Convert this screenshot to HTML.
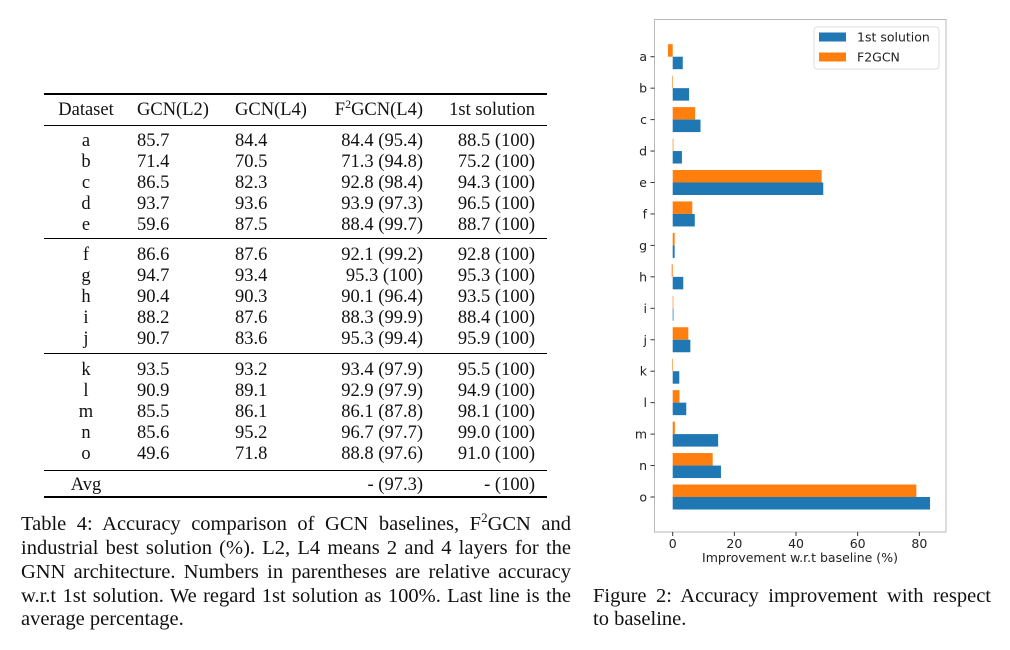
<!DOCTYPE html>
<html><head><meta charset="utf-8">
<style>
html,body{margin:0;padding:0;background:#fff;}
body{width:1010px;height:650px;position:relative;overflow:hidden;font-family:"Liberation Serif",serif;color:#111;}
.t{position:absolute;font-size:18.5px;line-height:22px;white-space:nowrap;}
.c{transform:translateX(-50%);}
.r{transform:translateX(-100%);}
.hl{position:absolute;left:44px;width:503px;background:#000;}
.cl{position:absolute;font-size:20.5px;line-height:23.8px;white-space:nowrap;}
.j{text-align:justify;text-align-last:justify;}
</style></head>
<body>
<div id="table"></div>
<div>
<div class="cl j" style="left:21px;top:513px;width:550px;">Table 4: Accuracy comparison of GCN baselines, F<sup style="font-size:13px;line-height:0">2</sup>GCN and</div>
<div class="cl j" style="left:21px;top:537px;width:550px;">industrial best solution (%). L2, L4 means 2 and 4 layers for the</div>
<div class="cl j" style="left:21px;top:561px;width:550px;">GNN architecture. Numbers in parentheses are relative accuracy</div>
<div class="cl j" style="left:21px;top:585px;width:550px;">w.r.t 1st solution. We regard 1st solution as 100%. Last line is the</div>
<div class="cl" style="left:21px;top:608px;">average percentage.</div>
</div>
<div>
<div class="cl j" style="left:593px;top:585px;width:398px;">Figure 2: Accuracy improvement with respect</div>
<div class="cl" style="left:593px;top:608px;">to baseline.</div>
</div>
<svg id="chart" width="1010" height="650" style="position:absolute;left:0;top:0;" xmlns="http://www.w3.org/2000/svg"></svg>
<script>
// ---------- table ----------
const rows=[["a","85.7","84.4","84.4 (95.4)","88.5 (100)"],["b","71.4","70.5","71.3 (94.8)","75.2 (100)"],["c","86.5","82.3","92.8 (98.4)","94.3 (100)"],["d","93.7","93.6","93.9 (97.3)","96.5 (100)"],["e","59.6","87.5","88.4 (99.7)","88.7 (100)"],
["f","86.6","87.6","92.1 (99.2)","92.8 (100)"],["g","94.7","93.4","95.3 (100)","95.3 (100)"],["h","90.4","90.3","90.1 (96.4)","93.5 (100)"],["i","88.2","87.6","88.3 (99.9)","88.4 (100)"],["j","90.7","83.6","95.3 (99.4)","95.9 (100)"],
["k","93.5","93.2","93.4 (97.9)","95.5 (100)"],["l","90.9","89.1","92.9 (97.9)","94.9 (100)"],["m","85.5","86.1","86.1 (87.8)","98.1 (100)"],["n","85.6","95.2","96.7 (97.7)","99.0 (100)"],["o","49.6","71.8","88.8 (97.6)","91.0 (100)"]];
const rowY=[141,162,183,204,225,255,276,297,318,339,370,391,412,433,454];
const tb=document.getElementById('table');
function txt(s,x,y,cls){const d=document.createElement('div');d.className='t '+cls;d.style.left=x+'px';d.style.top=(y-11)+'px';d.innerHTML=s;


tb.appendChild(d);}
function hl(y,h){const d=document.createElement('div');d.className='hl';d.style.top=y+'px';d.style.height=h+'px';


tb.appendChild(d);}
txt("Dataset",86,110,"c");txt("GCN(L2)",137,110,"");txt("GCN(L4)",235,110,"");
txt('F<sup style="font-size:12px;line-height:0">2</sup>GCN(L4)',423,110,"r");txt("1st solution",535,110,"r");
rows.forEach((r,i)=>{const y=rowY[i];txt(r[0],86,y,"c");txt(r[1],137,y,"");txt(r[2],235,y,"");txt(r[3],423,y,"r");txt(r[4],535,y,"r");});
txt("Avg",86,485,"c");txt("- (97.3)",423,485,"r");txt("- (100)",535,485,"r");
hl(93,2);hl(125,1);hl(238,1);hl(353,1);hl(470,1);hl(496,2);

// ---------- chart ----------
const categories=["a","b","c","d","e","f","g","h","i","j","k","l","m","n","o"];
const firstSolution=[3.27,5.32,9.02,2.99,48.83,7.16,0.63,3.43,0.23,5.73,2.14,4.40,14.74,15.65,83.47];
const f2gcn=[-1.52,-0.14,7.28,0.21,48.32,6.35,0.63,-0.33,0.11,5.07,-0.11,2.20,0.70,12.97,79.03];
const xTicks=[0,20,40,60,80];
const NS="http://www.w3.org/2000/svg";
const svg=document.getElementById('chart');
const X0=672.7,XS=3.083,Y0=56.7,YS=31.45,BH=12.5;
const xs=v=>X0+v*XS, ys=i=>Y0+i*YS;
function el(t,a){const e=document.createElementNS(NS,t);for(const k in a)e.setAttribute(k,a[k]);svg.appendChild(e);return e;}
const fr=el('rect',{x:654.5,y:19.5,width:291.5,height:512.5,fill:'none',stroke:'#bbb','stroke-width':1});


categories.forEach((c,i)=>{
  const y=ys(i);
  const vo=f2gcn[i],vb=firstSolution[i];
  const ro=el('rect',{x:Math.min(xs(0),xs(vo)),y:y-BH,width:Math.max(Math.abs(xs(vo)-xs(0)),0.6),height:BH,fill:'#ff7f0e'});
  
  
  const rb=el('rect',{x:Math.min(xs(0),xs(vb)),y:y,width:Math.max(Math.abs(xs(vb)-xs(0)),0.6),height:BH,fill:'#1f77b4'});
  
  
  el('line',{x1:650.5,x2:654.5,y1:y,y2:y,stroke:'#333','stroke-width':1});
  const t=el('text',{x:647,y:y+4.5,'text-anchor':'end','font-family':'DejaVu Sans, sans-serif','font-size':12.5,fill:'#222'});t.textContent=c;
  
  
});
xTicks.forEach(v=>{
  el('line',{x1:xs(v),x2:xs(v),y1:532,y2:536,stroke:'#333','stroke-width':1});
  const t=el('text',{x:xs(v),y:548,'text-anchor':'middle','font-family':'DejaVu Sans, sans-serif','font-size':12.5,fill:'#222'});t.textContent=v;
  
  
});
const xt=el('text',{x:800,y:562,'text-anchor':'middle','font-family':'DejaVu Sans, sans-serif','font-size':12.5,fill:'#222'});xt.textContent="Improvement w.r.t baseline (%)";


const lg=el('rect',{x:814,y:27,width:125,height:42,rx:3,fill:'#fff',stroke:'#ddd'});


[["1st solution","#1f77b4",37],["F2GCN","#ff7f0e",57]].forEach(([n,c,y])=>{
  el('rect',{x:819,y:y-4.5,width:27,height:9,fill:c});
  const t=el('text',{x:857,y:y+4.5,'font-family':'DejaVu Sans, sans-serif','font-size':12.5,fill:'#222'});t.textContent=n;
  
  
});
</script>
</body></html>
